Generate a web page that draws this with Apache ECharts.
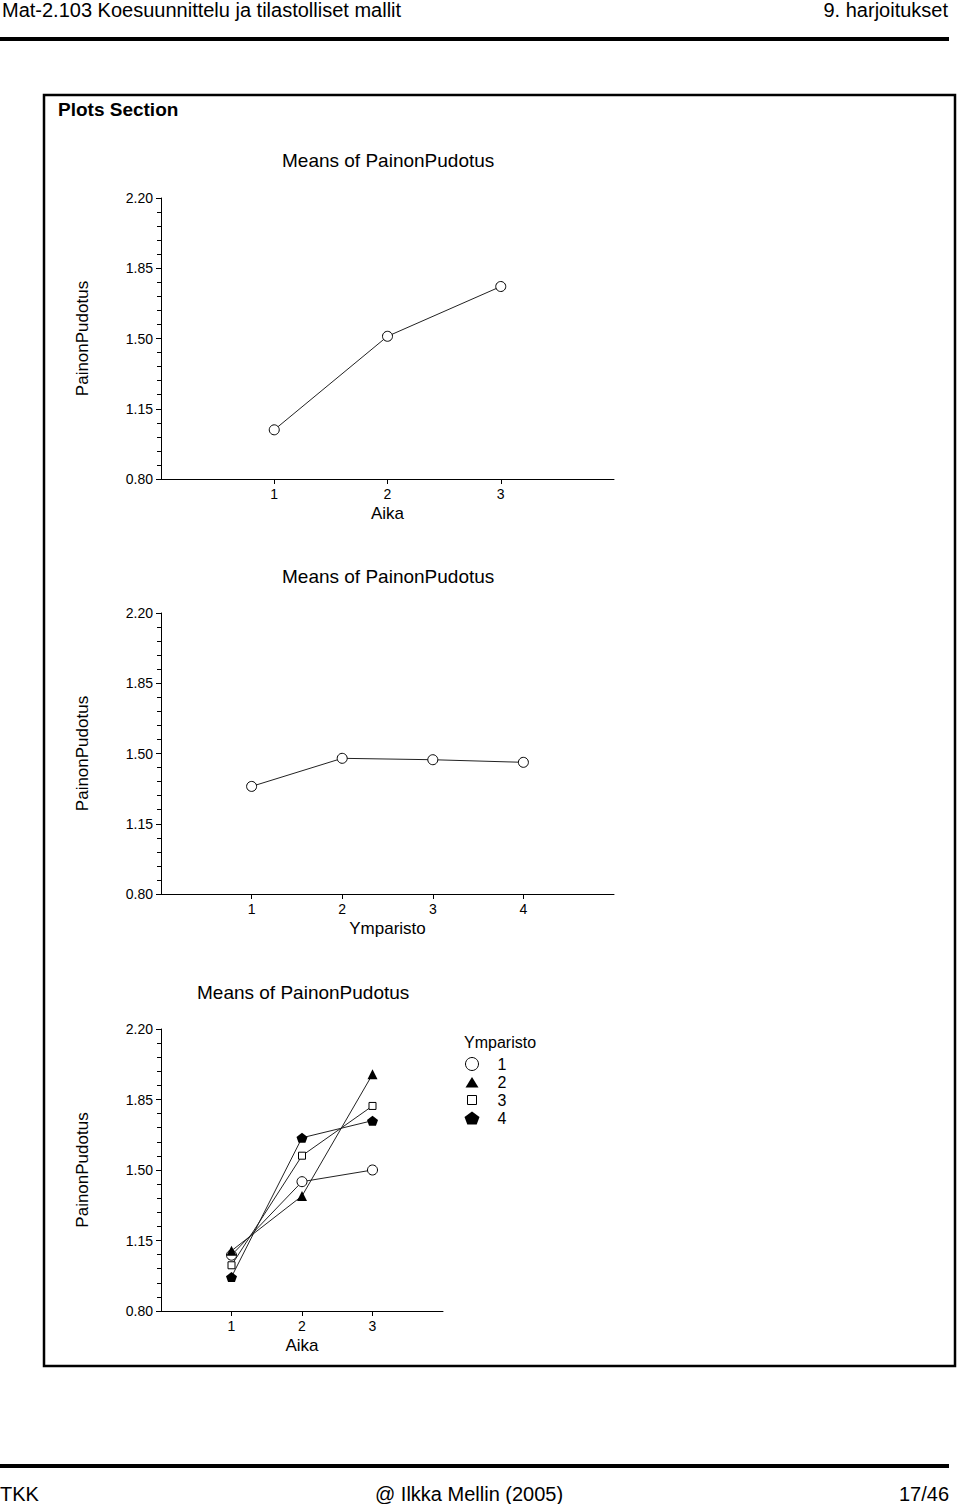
<!DOCTYPE html>
<html>
<head>
<meta charset="utf-8">
<script src="https://cdn.jsdelivr.net/npm/echarts@6/dist/echarts.min.js"></script>
<style>
html, body { margin: 0; padding: 0; background: #fff; }
#main { width: 960px; height: 1504px; }
</style>
</head>
<body>
<div id="main"></div>
<script>
// levels of the two factors
const aikaLevels = [1, 2, 3];
const ymparistoLevels = [1, 2, 3, 4];

// means of PainonPudotus
const aikaMeans = [1.045, 1.511, 1.759];
const ymparistoMeans = [1.336, 1.476, 1.469, 1.456];

// Aika x Ymparisto, one list for each Ymparisto level
const ymparisto1 = [1.077, 1.442, 1.500];
const ymparisto2 = [1.099, 1.371, 1.975];
const ymparisto3 = [1.027, 1.571, 1.818];
const ymparisto4 = [0.969, 1.660, 1.745];

const legendNames = ['1', '2', '3', '4'];
const yMin = 0.80, yMax = 2.20, yStep = 0.35;

const FONT = '"Liberation Sans", Arial, sans-serif';
const INK = '#000';

const pentagon = 'path://M7.5,0L15,5.5L12.2,13L2.8,13L0,5.5Z';
const legendTriangle = 'path://M0,0M15,13M7.5,1.5L14,12L1,12Z';
const legendSquare = 'path://M0,0M15,13M3,2L12,2L12,11L3,11Z';

let chart = echarts.init(document.getElementById('main'), null, { renderer: 'svg' });

function yAxisFor(gridIndex) {
	return {
		type: 'value',
		gridIndex: gridIndex,
		min: yMin,
		max: yMax,
		interval: yStep,
		name: 'PainonPudotus',
		nameLocation: 'middle',
		nameRotate: 90,
		nameGap: 70,
		nameTextStyle: { color: INK, fontSize: 17, fontFamily: FONT },
		axisLine: { show: true, lineStyle: { color: INK, width: 1 } },
		axisTick: { show: true, length: 5, lineStyle: { color: INK } },
		minorTick: { show: true, splitNumber: 5, length: 4, lineStyle: { color: INK } },
		splitLine: { show: false },
		axisLabel: {
			color: INK, fontSize: 14, fontFamily: FONT, margin: 8,
			formatter: v => v.toFixed(2)
		}
	};
}

function xAxisFor(gridIndex, name, levels) {
	let last = levels[levels.length - 1] + 1;
	return {
		type: 'value',
		gridIndex: gridIndex,
		min: 0,
		max: last,
		interval: 1,
		name: name,
		nameLocation: 'middle',
		nameGap: 26,
		nameTextStyle: { color: INK, fontSize: 17, fontFamily: FONT },
		axisLine: { show: true, onZero: false, lineStyle: { color: INK, width: 1 } },
		axisTick: { show: true, length: 5, lineStyle: { color: INK } },
		splitLine: { show: false },
		axisLabel: {
			color: INK, fontSize: 14, fontFamily: FONT, margin: 8,
			showMinLabel: false, showMaxLabel: false,
			formatter: v => (v > 0 && v < last) ? String(v) : ''
		}
	};
}

function lineSeries(name, xi, levels, values, symbol, size, hollow) {
	return {
		name: name,
		type: 'line',
		xAxisIndex: xi,
		yAxisIndex: xi,
		data: levels.map((l, i) => [l, values[i]]),
		symbol: symbol,
		symbolSize: size,
		showSymbol: true,
		lineStyle: { color: '#222', width: 1 },
		itemStyle: hollow
			? { color: '#fff', borderColor: INK, borderWidth: 1 }
			: { color: INK, borderColor: INK, borderWidth: 0 },
		emphasis: { disabled: true },
		z: 3
	};
}

function chartTitle(top, left) {
	return {
		text: 'Means of PainonPudotus',
		left: left,
		top: top,
		padding: 0,
		textStyle: { color: INK, fontSize: 19, fontWeight: 'normal', fontFamily: FONT }
	};
}

let option = {
	backgroundColor: '#fff',
	animation: false,
	title: [
		chartTitle(151, 282),
		chartTitle(567, 282),
		chartTitle(983, 197),
		{
			text: 'Ymparisto',
			left: 464,
			top: 1034,
			padding: 0,
			textStyle: { color: INK, fontSize: 16, fontWeight: 'normal', fontFamily: FONT }
		}
	],
	grid: [
		{ left: 161, top: 198, width: 453, height: 281 },
		{ left: 161, top: 613, width: 453, height: 281 },
		{ left: 161, top: 1029, width: 282, height: 282 }
	],
	xAxis: [
		xAxisFor(0, 'Aika', aikaLevels),
		xAxisFor(1, 'Ymparisto', ymparistoLevels),
		xAxisFor(2, 'Aika', aikaLevels)
	],
	yAxis: [yAxisFor(0), yAxisFor(1), yAxisFor(2)],
	legend: {
		orient: 'vertical',
		left: 464,
		top: 1056,
		padding: 0,
		itemWidth: 15,
		itemHeight: 13,
		itemGap: 2,
		selectedMode: false,
		textStyle: { color: INK, fontSize: 16, lineHeight: 16, fontFamily: FONT, padding: [0, 0, 0, 13] },
		data: [
			{ name: legendNames[0], icon: 'circle', itemStyle: { color: '#fff', borderColor: INK, borderWidth: 1 } },
			{ name: legendNames[1], icon: legendTriangle, itemStyle: { color: INK, borderWidth: 0 } },
			{ name: legendNames[2], icon: legendSquare, itemStyle: { color: '#fff', borderColor: INK, borderWidth: 1 } },
			{ name: legendNames[3], icon: pentagon, itemStyle: { color: INK, borderWidth: 0 } }
		]
	},
	series: [
		lineSeries('Aika', 0, aikaLevels, aikaMeans, 'circle', 10, true),
		lineSeries('Ymparisto', 1, ymparistoLevels, ymparistoMeans, 'circle', 10, true),
		lineSeries(legendNames[0], 2, aikaLevels, ymparisto1, 'circle', 10, true),
		lineSeries(legendNames[1], 2, aikaLevels, ymparisto2, 'triangle', 10, false),
		lineSeries(legendNames[2], 2, aikaLevels, ymparisto3, 'rect', 7, true),
		lineSeries(legendNames[3], 2, aikaLevels, ymparisto4, pentagon, [11, 10], false)
	],
	graphic: [
		// page header
		{
			type: 'text', left: 2, top: 0,
			style: { text: 'Mat-2.103 Koesuunnittelu ja tilastolliset mallit', fill: INK, font: '20px ' + FONT }
		},
		{
			type: 'text', right: 12, top: 0,
			style: { text: '9. harjoitukset', fill: INK, font: '20px ' + FONT }
		},
		{ type: 'rect', shape: { x: 0, y: 37, width: 949, height: 4 }, style: { fill: INK } },
		// frame of the plots section
		{
			type: 'rect', z: -1,
			shape: { x: 44, y: 95, width: 911, height: 1271 },
			style: { fill: 'none', stroke: INK, lineWidth: 2.5 }
		},
		{
			type: 'text', left: 58, top: 100,
			style: { text: 'Plots Section', fill: INK, font: 'bold 19px ' + FONT }
		},
		// page footer
		{ type: 'rect', shape: { x: 0, y: 1464, width: 949, height: 4 }, style: { fill: INK } },
		{
			type: 'text', left: 0, top: 1484,
			style: { text: 'TKK', fill: INK, font: '20px ' + FONT }
		},
		{
			type: 'text', left: 375, top: 1484,
			style: { text: '@ Ilkka Mellin (2005)', fill: INK, font: '20px ' + FONT }
		},
		{
			type: 'text', right: 11, top: 1484,
			style: { text: '17/46', fill: INK, font: '20px ' + FONT }
		}
	]
};

chart.setOption(option);
</script>
</body>
</html>
